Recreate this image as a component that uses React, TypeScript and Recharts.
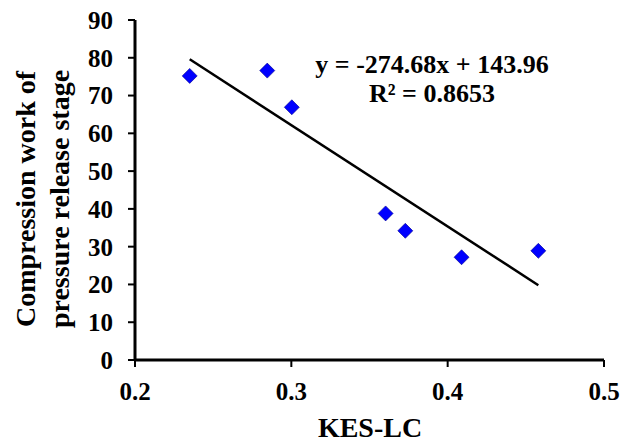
import { ScatterChart, Scatter, XAxis, YAxis } from "recharts";

// KES-LC vs compression work
const kesLc = [0.235, 0.2846, 0.3003, 0.3603, 0.3729, 0.4089, 0.458];
const work = [75.2, 76.6, 66.9, 38.8, 34.2, 27.2, 28.9];

// linear trendline end points
const trendX = [0.235, 0.458];
const trendY = [79.6, 19.8];

const xTicks = [0.2, 0.3, 0.4, 0.5];
const yTicks = [0, 10, 20, 30, 40, 50, 60, 70, 80, 90];

const equation = "y = -274.68x + 143.96";
const rSquared = "R² = 0.8653";

const points = kesLc.map((x, i) => ({ x, y: work[i] }));
const trend = trendX.map((x, i) => ({ x, y: trendY[i] }));

const FONT = "'Liberation Serif', 'Times New Roman', serif";

function Diamond(props: any) {
  const { cx, cy } = props;
  const r = 7.5;
  return (
    <path
      d={`M${cx},${cy - r}L${cx + r},${cy}L${cx},${cy + r}L${cx - r},${cy}Z`}
      fill="#0000ff"
      stroke="#00008b"
      strokeWidth={0.6}
    />
  );
}

function YLabel() {
  return (
    <g fontFamily={FONT} fontWeight="bold" fontSize={28} fill="#000">
      <text x={34.5} y={199} textAnchor="middle" transform="rotate(-90 34.5 199)">
        Compression work of
      </text>
      <text x={68.5} y={199} textAnchor="middle" transform="rotate(-90 68.5 199)">
        pressure release stage
      </text>
    </g>
  );
}

function XLabel() {
  return (
    <text x={370} y={437} textAnchor="middle" fontFamily={FONT} fontWeight="bold" fontSize={28} fill="#000">
      KES-LC
    </text>
  );
}

export default function App() {
  const tickStyle = { fontFamily: FONT, fontWeight: "bold" as const, fontSize: 25, fill: "#000" };
  return (
    <div style={{ position: "absolute", left: 0, top: 0, background: "#fff" }}>
      <ScatterChart width={632} height={443} margin={{ top: 20, right: 28, left: 0, bottom: 0 }}>
        <XAxis
          type="number"
          dataKey="x"
          domain={[0.2, 0.5]}
          ticks={xTicks}
          tickFormatter={(v: number) => v.toFixed(1)}
          height={83}
          tickSize={7}
          tickMargin={15}
          axisLine={{ stroke: "#000", strokeWidth: 3 }}
          tickLine={{ stroke: "#000", strokeWidth: 2 }}
          tick={tickStyle}
          label={{ content: () => <XLabel /> }}
        />
        <YAxis
          type="number"
          dataKey="y"
          domain={[0, 90]}
          ticks={yTicks}
          width={135}
          tickSize={7}
          tickMargin={15}
          axisLine={{ stroke: "#000", strokeWidth: 3 }}
          tickLine={{ stroke: "#000", strokeWidth: 2 }}
          tick={tickStyle}
          label={{ content: () => <YLabel /> }}
        />
        <Scatter
          data={trend}
          line={{ stroke: "#000", strokeWidth: 2.5 }}
          shape={() => <g />}
          isAnimationActive={false}
        />
        <Scatter data={points} shape={Diamond} isAnimationActive={false} />
        <g fontFamily={FONT} fontWeight="bold" fontSize={26} fill="#000" textAnchor="middle">
          <text x={432} y={73}>{equation}</text>
          <text x={432} y={102}>{rSquared}</text>
        </g>
      </ScatterChart>
    </div>
  );
}
